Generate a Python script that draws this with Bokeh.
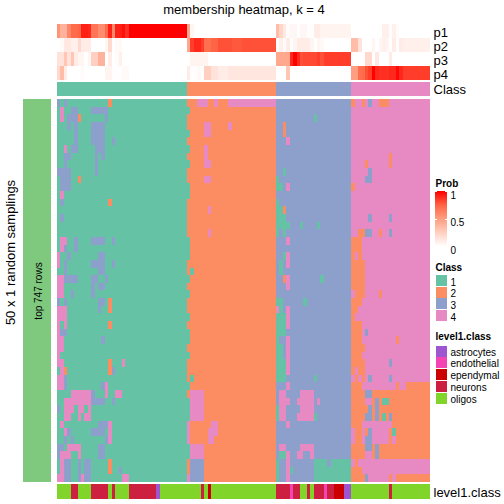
from bokeh.plotting import figure
from bokeh.models import Range1d, ColumnDataSource
from bokeh.core.properties import value
from bokeh.embed import file_html
from bokeh.resources import INLINE
import numpy as np, math

TITLE = "membership heatmap, k = 4"
CLASS_SIZES = [38, 26, 22, 23]
CLASS_COLORS = {1: "#66C2A5", 2: "#FC8D62", 3: "#8DA0CB", 4: "#E78AC3"}
LEVEL_COLORS = {"astrocytes": "#9E55D0", "endothelial": "#F444B4", "ependymal": "#CC0000",
                "neurons": "#CD1F3F", "oligos": "#80D42A"}
LEVEL_RUNS = [("oligos",4),("neurons",2),("oligos",4),("neurons",5),("oligos",1),("neurons",1),("oligos",4),
              ("neurons",8),("astrocytes",1),("oligos",12),("neurons",1),("oligos",1),("ependymal",1),("oligos",19),
              ("neurons",4),("endothelial",1),("neurons",2),("oligos",2),("neurons",1),("oligos",1),("neurons",3),
              ("endothelial",1),("neurons",2),("ependymal",3),("astrocytes",2),("oligos",11),("neurons",1),("oligos",11)]

p1 = [0.55,0.4,0.4,0.6,0.72,0.72,0.75,0.92,0.92,0.9,0.68,0.68,0.58,0.58,0.72,0.92,0.6,0.92,0.92,0.96,0.88] + [1]*17 \
   + [0.45,0.05] + [0]*24 \
   + [0.35,0.22,0.12,0.02,0.04,0.04,0,0.04,0.04,0.01,0.01,0.1,0.1,0.06,0.06,0.06,0.06,0.06,0.06,0.06,0.06,0.06] \
   + [0]*9 + [0.08,0.08,0.01,0.08,0.02] + [0]*9
p2 = [0,0.03,0.12,0.12,0.08,0.08,0.2,0.1,0.1,0.1,0,0,0,0,0.05,0.2,0,0.03,0.03] + [0]*19 \
   + [0.45,0.85,0.9,0.9,0.85,0.7,0.7,0.75,0.75,0.8,0.8,0.8,0.8,0.78,0.78,0.78] + [0.8]*10 \
   + [0,0.08,0.02,0.1,0,0.05,0.1,0.1,0.1,0.1,0.05,0,0.05,0.03] + [0]*8 \
   + [0.35,0.35,0.15,0,0,0,0.05,0,0.05,0.08,0.05,0.01,0.1,0.01,0.1] + [0.08]*8
p3 = [0.15,0.15,0.3,0.15,0.3,0.1,0.05,0.05,0,0.05,0.25,0.25,0.4,0.4,0,0.1,0,0.02,0.08] + [0]*19 \
   + [0,0.06,0.06,0.06,0.06,0.06] + [0]*20 \
   + [0.45,0.45,0.45,0.45,0.9,1,0.9,0.8,0.82,0.82,0.82,0.82,0.85,0.8] + [0.85]*8 \
   + [0,0,0,0,0.2,0.2,0,0.12,0,0,0,0.1] + [0]*11
p4 = [0.2,0.35,0.1,0,0,0,0,0.02] + [0]*6 + [0.06,0.06,0.01,0.01,0.01,0.03,0.03] + [0]*17 \
   + [0.1,0.01,0.01,0.03,0,0.25,0.25,0.15,0.15,0.1,0.1,0.1] + [0.13]*14 \
   + [0,0,0,0.3] + [0]*18 \
   + [0.5,0.5,0.7,0.72,0.8,0.85,1,0.9,0.88,0.88,0.88,0.9,0.9,0.98,0.9] + [0.85]*8
PROB_ROWS = {"p1": p1, "p2": p2, "p3": p3, "p4": p4}

# per row: (first column, last column, class) where the row departs from its column's class
ROW_DEVIATIONS = [
 [(0,0,3),(2,2,3),(15,15,2),(41,43,4),(46,46,4),(50,63,4),(86,86,2),(89,89,2),(91,91,3),(94,96,2)],
 [(1,1,4),(4,5,3),(10,14,3),(38,38,1)],
 [(1,1,4),(3,5,3),(6,6,2),(14,14,3),(75,75,1)],
 [(3,3,3),(5,5,3),(10,13,3),(43,44,4),(50,50,4),(66,66,2)],
 [(5,5,3),(10,13,3),(38,38,1),(43,44,4),(66,66,2)],
 [(5,5,3),(10,13,3),(16,16,3),(67,67,4)],
 [(2,2,4),(4,5,3),(11,13,3),(38,38,1),(43,43,4)],
 [(2,3,3),(11,11,3),(13,13,3),(43,43,4),(97,97,2)],
 [(2,2,3),(11,11,3),(38,38,1),(43,44,4),(90,90,2),(97,97,2)],
 [(0,3,3),(11,11,3),(66,66,1),(91,91,3)],
 [(1,3,3),(6,6,2),(43,44,4),(64,64,1),(90,91,3)],
 [(1,3,3),(38,38,1),(64,65,1),(67,67,4),(86,86,2)],
 [(1,1,4),(38,38,1)],
 [(1,1,3),(15,15,2),(64,64,1)],
 [(44,44,4),(64,65,1),(66,66,2)],
 [(1,1,3),(64,66,1),(91,91,3),(97,97,3)],
 [(64,67,1),(71,71,1),(76,76,1)],
 [(44,44,4),(64,64,1),(66,66,1),(88,89,2),(90,91,3),(94,94,2),(97,97,3)],
 [(1,2,4),(5,5,3),(10,13,3),(16,16,3),(38,38,1),(67,67,4),(86,88,2)],
 [(1,1,4),(2,2,3),(5,5,3),(38,38,1),(86,88,2)],
 [(0,0,4),(3,3,3),(12,13,3),(38,38,1),(66,66,1),(67,67,4),(86,86,2),(88,88,2)],
 [(0,0,4),(2,2,3),(10,13,3),(16,16,3),(65,65,1),(67,67,4),(86,89,2)],
 [(2,2,3),(12,13,3),(39,39,1),(65,65,1),(86,89,2)],
 [(0,1,4),(2,5,3),(10,11,3),(14,14,3),(38,38,1),(66,66,2),(67,67,4),(77,77,1),(86,89,2)],
 [(0,1,4),(10,10,3),(12,13,3),(67,67,4),(86,89,2)],
 [(0,1,4),(4,4,3),(10,10,3),(38,38,1),(87,89,2),(94,94,2)],
 [(0,0,3),(2,2,3),(12,13,3),(15,15,2),(64,65,1),(72,72,1),(86,88,2)],
 [(0,2,4),(12,12,3),(15,15,2),(64,64,4),(65,65,1),(67,67,4),(86,87,2)],
 [(0,2,4),(38,38,1),(64,66,1),(67,67,4),(86,86,2)],
 [(0,0,4),(2,2,4),(15,15,2),(64,66,1),(67,67,4),(86,88,2)],
 [(0,0,4),(1,2,3),(38,38,1),(64,66,1),(86,88,2),(90,90,3)],
 [(0,1,4),(13,13,3),(38,38,1),(64,64,1),(67,67,4),(86,88,2),(99,99,2)],
 [(0,1,4),(64,65,1),(67,67,4),(86,89,2)],
 [(0,0,4),(38,38,1),(64,65,1),(67,67,4),(86,88,2)],
 [(0,1,4),(15,15,2),(19,19,4),(64,66,1),(67,67,4),(86,89,2),(97,97,3)],
 [(1,1,4),(2,2,2),(15,15,2),(16,16,3),(64,66,1),(67,67,4),(86,86,2),(88,89,2)],
 [(0,1,4),(2,2,3),(39,39,1),(64,66,1),(75,75,1),(87,87,2),(89,89,2),(91,91,3),(97,97,3)],
 [(0,1,4),(2,2,3),(13,13,3),(14,14,4),(38,38,1),(67,67,4),(86,88,2),(99,99,2),(102,108,2)],
 [(4,9,4),(10,10,3),(14,14,4),(17,18,4),(39,42,4),(65,66,4),(71,74,4),(86,89,2),(90,91,3),(92,108,2)],
 [(2,9,4),(10,13,3),(16,16,3),(38,38,1),(39,42,4),(65,67,4),(70,74,4),(76,76,4),(86,89,2),(92,92,2),(93,93,3),(94,94,2),(95,96,1),(97,108,2)],
 [(0,0,3),(2,4,4),(6,7,4),(9,9,4),(38,38,1),(39,42,4),(64,64,1),(65,66,4),(71,74,4),(86,90,2),(91,91,3),(92,92,2),(93,93,3),(94,108,2)],
 [(2,3,4),(6,6,4),(8,9,4),(38,38,1),(39,42,4),(64,64,1),(65,66,4),(70,74,4),(75,75,1),(86,89,2),(90,91,3),(92,92,2),(93,93,3),(94,94,2),(95,95,1),(96,96,2),(97,97,3),(98,108,2)],
 [(1,1,4),(12,14,3),(15,15,4),(38,38,4),(45,46,4),(67,67,4),(86,88,2),(98,108,2)],
 [(2,2,4),(3,3,3),(10,13,3),(15,15,4),(38,38,4),(44,46,4),(87,88,2),(90,90,2),(91,91,3),(97,97,2),(98,98,1),(99,108,2)],
 [(2,2,3),(4,4,3),(14,14,3),(15,15,4),(38,38,4),(44,45,4),(87,88,2),(90,91,3),(97,97,2),(99,108,2)],
 [(0,1,3),(3,6,4),(12,13,3),(38,38,1),(39,42,4),(65,66,4),(71,74,4),(86,89,2),(90,91,3),(92,92,2),(93,93,3),(94,108,2)],
 [(0,0,3),(1,3,4),(6,6,4),(12,13,3),(38,38,1),(39,42,4),(65,66,1),(67,67,4),(70,71,4),(74,74,4),(86,89,2),(92,92,2),(93,93,3),(94,108,2)],
 [(1,1,4),(2,3,3),(6,6,3),(8,9,3),(15,15,2),(39,42,3),(64,64,1),(67,67,4),(75,78,1),(80,85,1),(87,87,2)],
 [(1,1,4),(2,3,3),(6,6,3),(8,9,3),(15,15,2),(18,18,3),(39,42,3),(64,64,1),(67,67,4),(68,68,1),(75,85,1),(86,88,2)],
 [(0,1,4),(2,3,3),(6,6,3),(7,7,4),(8,9,3),(19,20,4),(38,38,4),(39,42,3),(64,64,1),(67,67,4),(75,85,1),(86,89,2),(90,90,3),(97,97,2),(99,108,2)],
]

PROB_TICKS = ["1", "0.5", "0"]
CLASS_LABELS = ["1", "2", "3", "4"]
LEVEL_LABELS = ["astrocytes", "endothelial", "ependymal", "neurons", "oligos"]

# ---- layout (page pixels)
X0, X1, Y0, Y1 = 57.0, 430.0, 99.0, 482.0
NCOL, NROW = sum(CLASS_SIZES), len(ROW_DEVIATIONS)
FONT = value("Liberation Sans")
RAMP_X = [0, .25, .5, .75, 1]
RAMP = [(255,255,255), (255,208,193), (255,158,129), (255,101,69), (255,0,0)]
SNAP = 0.5   # the renderer draws half a pixel off; this brings cell edges back on to whole pixels

def prob_color(v):
    return "#%02x%02x%02x" % tuple(int(round(np.interp(v, RAMP_X, [c[i] for c in RAMP]))) for i in range(3))

cx = lambda c: round(X0 + c * (X1 - X0) / NCOL)
ry = lambda r: round(Y0 + r * (Y1 - Y0) / NROW)

p = figure(width=504, height=504, output_backend="svg", toolbar_location=None, x_axis_location=None,
           y_axis_location=None, x_range=Range1d(0, 504), y_range=Range1d(504, 0), min_border=0,
           outline_line_color=None, styles={"shape-rendering": "crispEdges"})
p.grid.visible = False
p.xaxis.visible = False
p.yaxis.visible = False
p.background_fill_color = "white"
p.border_fill_color = "white"

def cells(l, r, t, b, colors):
    p.quad(left=[v - SNAP for v in l], right=[v - SNAP for v in r], top=[v - SNAP for v in t],
           bottom=[v - SNAP for v in b], fill_color=colors, line_color=None)

base = np.repeat([1, 2, 3, 4], CLASS_SIZES)

# main heatmap, merged into runs per row
L, R, T, B, C = [], [], [], [], []
for r, devs in enumerate(ROW_DEVIATIONS):
    row = base.copy()
    for a, b, k in devs:
        row[a:b + 1] = k
    s = 0
    for c in range(1, NCOL + 1):
        if c == NCOL or row[c] != row[s]:
            L.append(cx(s)); R.append(cx(c)); T.append(ry(r)); B.append(ry(r + 1))
            C.append(CLASS_COLORS[int(row[s])])
            s = c
cells(L, R, T, B, C)

# probability rows and class row
PTOP = {"p1": 24, "p2": 38, "p3": 52, "p4": 66}
for name, vals in PROB_ROWS.items():
    cells([cx(c) for c in range(NCOL)], [cx(c + 1) for c in range(NCOL)],
          [PTOP[name]] * NCOL, [PTOP[name] + 14] * NCOL, [prob_color(v) for v in vals])
cells([cx(c) for c in range(NCOL)], [cx(c + 1) for c in range(NCOL)], [82] * NCOL, [96] * NCOL,
      [CLASS_COLORS[int(k)] for k in base])

# level1.class row
level_cols = [n for n, k in LEVEL_RUNS for _ in range(k)]
cells([cx(c) for c in range(NCOL)], [cx(c + 1) for c in range(NCOL)], [484] * NCOL, [499] * NCOL,
      [LEVEL_COLORS[n] for n in level_cols])

# left band
cells([23], [51], [Y0], [Y1], ["#7FC97F"])

def txt(x, y, s, size="10px", style="normal", angle=0, align="left"):
    p.text(x=[x], y=[y], text=[s], text_font=FONT, text_font_size=size, text_font_style=style,
           text_color="black", angle=angle, text_align=align, text_baseline="middle")

txt(243.5, 9, TITLE, size="13px", align="center")
for i, name in enumerate(PROB_ROWS):
    txt(433, 32 + 14 * i, name, size="13px")
txt(433, 89, "Class", size="13px")
txt(433, 492, "level1.class", size="13px")
txt(10, 252, "50 x 1 random samplings", size="13px", angle=math.pi / 2, align="center")
txt(38, 290.5, "top 747 rows", size="10px", angle=math.pi / 2, align="center")

# legends
txt(435, 183, "Prob", style="bold")
levels = list(np.linspace(1, 0, 56))
cells([435] * 56, [447] * 56, [191 + i for i in range(56)], [192 + i for i in range(56)],
      [prob_color(v) for v in levels])
for yy in (191, 219):
    p.segment(x0=[434.5, 444.1], x1=[436.9, 446.5], y0=[yy - SNAP, yy - SNAP], y1=[yy - SNAP, yy - SNAP],
              line_color="white", line_width=1)
for s, yy in zip(PROB_TICKS, (194, 221.5, 249)):
    txt(450, yy, s)

txt(435, 267, "Class", style="bold")
for i, k in enumerate(CLASS_LABELS):
    y0 = 275 + 11.7 * i
    cells([436], [447], [y0], [y0 + 11], [CLASS_COLORS[int(k)]])
    txt(450, y0 + 6, k)

txt(435, 336, "level1.class", style="bold")
for i, k in enumerate(LEVEL_LABELS):
    y0 = 345.5 + 11.8 * i
    cells([436], [447], [y0], [y0 + 11], [LEVEL_COLORS[k]])
    txt(450, y0 + 6, k)

open("out.html", "w").write(file_html(p, INLINE))
